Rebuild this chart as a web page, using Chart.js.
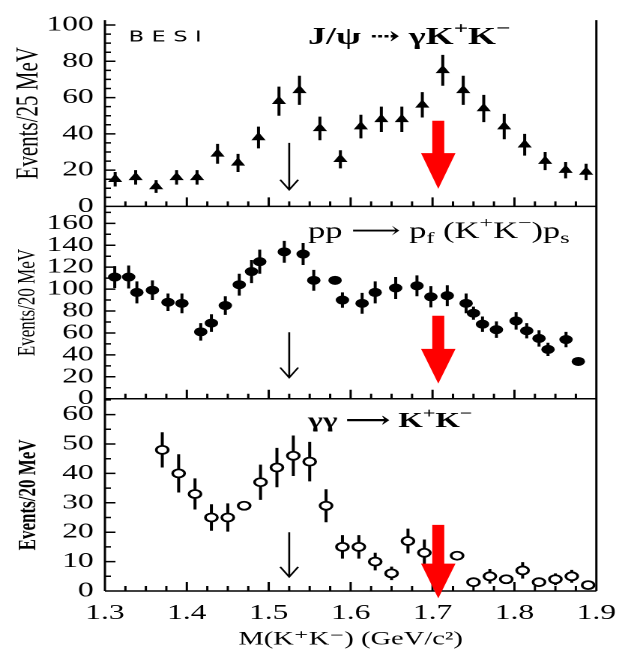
<!DOCTYPE html>
<html>
<head>
<meta charset="utf-8">
<script src="https://cdn.jsdelivr.net/npm/chart.js@4.4.1/dist/chart.umd.min.js"></script>
<style>
  html, body { margin: 0; padding: 0; background: #fff; overflow: hidden; }
  /* the original figure is stretched sideways, so draw narrow and widen */
  #wrap { width: 421px; height: 653px; transform: scaleX(1.4988); transform-origin: 0 0; }
</style>
</head>
<body>
<div id="wrap"><canvas id="myChart"></canvas></div>
<script>
// J/psi -> gamma K+K- (BES I), 25 MeV bins
const jpsiMass = [1.3125, 1.3375, 1.3625, 1.3875, 1.4125, 1.4375, 1.4625, 1.4875, 1.5125, 1.5375, 1.5625, 1.5875,
                  1.6125, 1.6375, 1.6625, 1.6875, 1.7125, 1.7375, 1.7625, 1.7875, 1.8125, 1.8375, 1.8625, 1.8875];
const jpsiEvents = [15, 16, 11, 16, 16, 29, 24, 38, 58, 64, 43, 26, 44, 48, 48, 56, 75, 64, 54, 44, 34, 25, 20, 19];
const jpsiErr = [4, 4, 3.5, 4, 4, 5.5, 5, 6, 8, 8, 6.5, 5, 6.5, 7, 7, 7, 8.5, 8, 7.5, 7, 6, 5, 4.5, 4.5];

// pp -> pf (K+K-) ps, 20 MeV bins
const ppMass = [1.312, 1.329, 1.339, 1.358, 1.377, 1.394, 1.417, 1.430, 1.447, 1.464, 1.479, 1.489, 1.519, 1.542,
                1.555, 1.581, 1.590, 1.614, 1.630, 1.655, 1.681, 1.698, 1.718, 1.741, 1.750, 1.761, 1.778, 1.802,
                1.815, 1.830, 1.841, 1.863, 1.878];
const ppEvents = [111, 111, 97, 99, 88, 87, 61, 69, 85, 104, 116, 125, 134, 132, 108, 108, 90, 87, 97, 101, 103,
                  93, 94, 87, 78, 68, 63, 71, 62, 55, 45, 54, 34];
const ppErr = [10, 10.5, 10, 9, 8, 9, 8, 8, 8.5, 10, 10.5, 11, 10, 10, 9.5, 2, 7, 9.5, 10, 10, 9.5, 9.7, 9.5, 9,
               6, 7, 7.5, 8, 7, 7.5, 6, 7, 2];

// gamma gamma -> K+K-, 20 MeV bins
const ggMass = [1.37, 1.39, 1.41, 1.43, 1.45, 1.47, 1.49, 1.51, 1.53, 1.55, 1.57, 1.59, 1.61, 1.63, 1.65, 1.67,
                1.69, 1.73, 1.75, 1.77, 1.79, 1.81, 1.83, 1.85, 1.87, 1.89];
const ggEvents = [48, 40, 33, 25, 25, 29, 37, 42, 46, 44, 29, 15, 15, 10, 6, 17, 13, 12, 3, 5, 4, 7, 3, 4, 5, 2];
const ggErr = [6, 6.5, 5.3, 4.5, 4.8, 1, 6, 6.7, 6.9, 6.7, 5.6, 4, 4, 3, 2.3, 4.2, 4.5, 1, 1.6, 2.5, 1.5, 2.8,
               1.5, 2, 2.2, 1];

// panel axes, top to bottom
const panelAxes = ['yJpsi', 'yPP', 'yGG'];
const panelTitles = ['Events/25 MeV', 'Events/20 MeV', 'Events/20 MeV'];
const panelMax = [102.7, 175.4, 65.4];
const panelStep = [5, 10, 5];
const panelLabelStep = [20, 20, 10];

// arrows: thin black at 1.525, thick red at 1.707 (values in each panel's units)
const thinArrowMass = 1.525;
const thinArrowFrom = [35, 60.6, 20];
const thinArrowTo = [9.2, 19.3, 4.8];
const redArrowMass = 1.707;
const redArrowFrom = [47.2, 75.7, 22.5];
const redArrowNeck = [29.4, 45.5, 9.3];
const redArrowTip = [9.7, 13.8, -2.5];

// reaction labels
const labelMass = 1.548;
const labelLevel = [93, 152, 57.6];
const panelLabels = [
  [['J/ψ ⇢ γK', ''], ['+', 'sup'], ['K', ''], ['−', 'sup']],
  [['pp ⟶ p', ''], ['f', 'sub'], [' (K', ''], ['+', 'sup'], ['K', ''], ['−', 'sup'], [')p', ''], ['s', 'sub']],
  [['γγ ⟶ K', ''], ['+', 'sup'], ['K', ''], ['−', 'sup']],
];

const SERIF = '"Liberation Serif", "DejaVu Serif", serif';

function drawRich(ctx, parts, x, y, size, weight) {
  let cx = x;
  parts.forEach(([t, kind]) => {
    const fs = kind ? size * 0.7 : size;
    const dy = kind === 'sup' ? -size * 0.36 : kind === 'sub' ? size * 0.28 : 0;
    ctx.font = `${weight} ${fs}px ${SERIF}`;
    ctx.fillText(t, cx, y + dy);
    cx += ctx.measureText(t).width;
  });
}

const frameAndErrors = {
  id: 'frameAndErrors',
  beforeDatasetsDraw(chart) {
    const {ctx, chartArea: a, scales} = chart;
    ctx.save();
    ctx.strokeStyle = '#000';
    ctx.lineWidth = 1.5;
    ctx.beginPath();
    ctx.moveTo(a.left, a.top); ctx.lineTo(a.left, a.bottom);
    ctx.moveTo(a.right, a.top); ctx.lineTo(a.right, a.bottom);
    panelAxes.forEach(id => {
      const s = scales[id];
      ctx.moveTo(a.left, s.bottom); ctx.lineTo(a.right, s.bottom);
      // y ticks pointing in
      s.ticks.forEach(t => {
        const py = s.getPixelForValue(t.value);
        const len = t.label !== '' ? 7 : 4;
        ctx.moveTo(a.left, py); ctx.lineTo(a.left + len, py);
      });
      // x ticks pointing up
      scales.x.ticks.forEach(t => {
        const px = scales.x.getPixelForValue(t.value);
        const len = t.label !== '' ? 9 : 5;
        ctx.moveTo(px, s.bottom); ctx.lineTo(px, s.bottom - len);
      });
    });
    ctx.stroke();

    // error bars
    ctx.lineWidth = 2;
    chart.data.datasets.forEach((ds, i) => {
      const meta = chart.getDatasetMeta(i);
      const ys = scales[ds.yAxisID];
      ctx.beginPath();
      meta.data.forEach((pt, j) => {
        const v = ds.data[j].y, e = ds.errors[j];
        ctx.moveTo(pt.x, ys.getPixelForValue(v + e));
        ctx.lineTo(pt.x, ys.getPixelForValue(v - e));
      });
      ctx.stroke();
    });
    ctx.restore();
  },
  afterDatasetsDraw(chart) {
    const {ctx, scales} = chart;
    const x = scales.x;
    ctx.save();
    panelAxes.forEach((id, i) => {
      const s = scales[id];
      // thin arrow
      const tx = x.getPixelForValue(thinArrowMass);
      const t0 = s.getPixelForValue(thinArrowFrom[i]);
      const t1 = s.getPixelForValue(thinArrowTo[i]);
      ctx.strokeStyle = '#000';
      ctx.lineWidth = 1.3;
      ctx.beginPath();
      ctx.moveTo(tx, t0); ctx.lineTo(tx, t1);
      ctx.moveTo(tx - 6, t1 - 10); ctx.lineTo(tx, t1); ctx.lineTo(tx + 6, t1 - 10);
      ctx.stroke();
      // red arrow
      const rx = x.getPixelForValue(redArrowMass);
      const r0 = s.getPixelForValue(redArrowFrom[i]);
      const r1 = s.getPixelForValue(redArrowNeck[i]);
      const r2 = s.getPixelForValue(redArrowTip[i]);
      ctx.fillStyle = '#ff0000';
      ctx.beginPath();
      ctx.moveTo(rx - 4, r0); ctx.lineTo(rx + 4, r0); ctx.lineTo(rx + 4, r1);
      ctx.lineTo(rx + 11.5, r1); ctx.lineTo(rx, r2); ctx.lineTo(rx - 11.5, r1);
      ctx.lineTo(rx - 4, r1); ctx.closePath();
      ctx.fill();
      // reaction label
      ctx.fillStyle = '#000';
      ctx.textBaseline = 'middle';
      ctx.textAlign = 'left';
      drawRich(ctx, panelLabels[i], x.getPixelForValue(labelMass), s.getPixelForValue(labelLevel[i]),
               [24, 23, 21][i], i === 1 ? 'normal' : 'bold');
    });
    // experiment tag
    const s0 = scales[panelAxes[0]];
    ctx.font = '15px "DejaVu Sans", sans-serif';
    ctx.letterSpacing = '5px';
    ctx.fillText('BESI', x.getPixelForValue(1.329), s0.getPixelForValue(93));
    ctx.restore();
  }
};

function yAxis(i, weight) {
  return {
    type: 'linear',
    position: 'left',
    stack: 'panels',
    stackWeight: weight,
    min: 0,
    max: panelMax[i],
    grid: {display: false, drawTicks: false},
    border: {display: false},
    ticks: {
      stepSize: panelStep[i],
      includeBounds: false,
      autoSkip: false,
      padding: 7.5,
      color: '#000',
      font: {family: SERIF, size: 21},
      callback: v => (v % panelLabelStep[i] === 0 ? String(v) : ''),
    },
    title: {
      display: true,
      text: panelTitles[i],
      color: '#000',
      font: {family: SERIF, size: [21, 17, 17][i], weight: i === 2 ? 'bold' : 'normal'},
      padding: {top: [7, 8.5, 9][i], bottom: 0},
    },
    afterFit: s => { s.width = 70; },
  };
}

const ctx = document.getElementById('myChart');

new Chart(ctx, {
  type: 'scatter',
  data: {
    datasets: [
      {
        data: jpsiMass.map((m, i) => ({x: m, y: jpsiEvents[i]})),
        errors: jpsiErr,
        yAxisID: 'yJpsi',
        pointStyle: 'triangle',
        pointRadius: 4.5,
        backgroundColor: '#000',
        borderColor: '#000',
        borderWidth: 1,
      },
      {
        data: ppMass.map((m, i) => ({x: m, y: ppEvents[i]})),
        errors: ppErr,
        yAxisID: 'yPP',
        pointStyle: 'circle',
        pointRadius: 4,
        backgroundColor: '#000',
        borderColor: '#000',
        borderWidth: 1,
      },
      {
        data: ggMass.map((m, i) => ({x: m, y: ggEvents[i]})),
        errors: ggErr,
        yAxisID: 'yGG',
        pointStyle: 'circle',
        pointRadius: 4,
        backgroundColor: '#fff',
        borderColor: '#000',
        borderWidth: 1.8,
      },
    ],
  },
  options: {
    responsive: true,
    maintainAspectRatio: false,
    animation: false,
    devicePixelRatio: 2,
    layout: {padding: {top: 15, right: 20, left: 0, bottom: 0}},
    plugins: {
      legend: {display: false},
      tooltip: {enabled: false},
    },
    scales: {
      x: {
        type: 'linear',
        min: 1.3,
        max: 1.9,
        grid: {display: false, drawTicks: false},
        border: {display: false},
        ticks: {
          stepSize: 0.025,
          autoSkip: false,
          maxRotation: 0,
          padding: 10,
          color: '#000',
          font: {family: SERIF, size: 21},
          callback: v => (Math.abs(v * 10 - Math.round(v * 10)) < 1e-6 ? v.toFixed(1) : ''),
        },
        title: {
          display: true,
          text: 'M(K⁺K⁻) (GeV/c²)',
          color: '#000',
          font: {family: SERIF, size: 19},
          padding: {top: 0, bottom: 2},
        },
        afterFit: s => { s.height = 62; },
      },
      // stacked left axes: the last one listed is placed on top
      yGG: yAxis(2, 194),
      yPP: yAxis(1, 194),
      yJpsi: yAxis(0, 188),
    },
  },
  plugins: [frameAndErrors],
});
</script>
</body>
</html>
